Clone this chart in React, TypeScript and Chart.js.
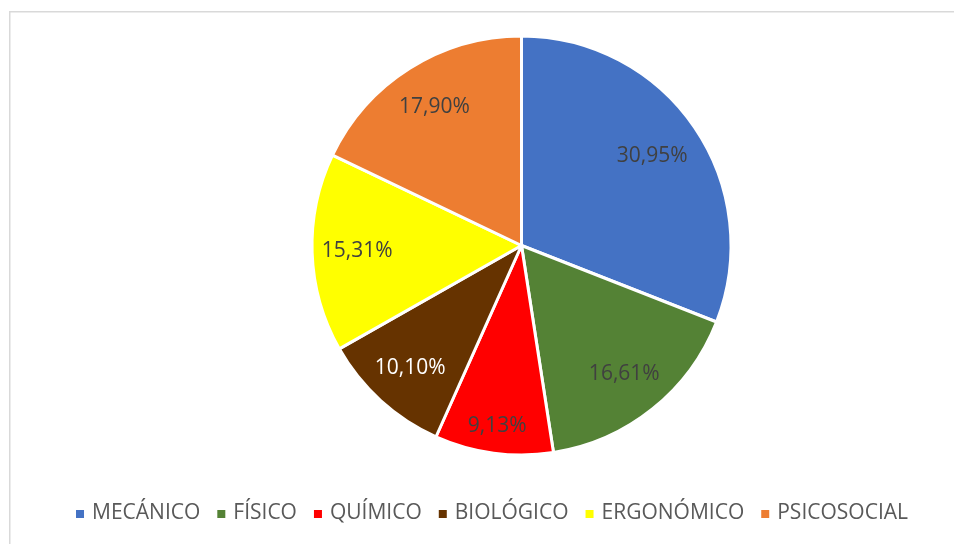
import React, { useEffect, useRef } from "react";
import { Chart, registerables } from "chart.js";

Chart.register(...registerables);

const categories = ["MECÁNICO", "FÍSICO", "QUÍMICO", "BIOLÓGICO", "ERGONÓMICO", "PSICOSOCIAL"];
const values = [30.95, 16.61, 9.13, 10.1, 15.31, 17.9];
const colors = ["#4472C4", "#548235", "#FF0000", "#663300", "#FFFF00", "#ED7D31"];
const labelColors = ["#404040", "#404040", "#404040", "#FFFFFF", "#404040", "#404040"];
const labelRadius = [0.755, 0.785, 0.87, 0.79, 0.785, 0.78];

const FONT = "'Open Sans', 'Liberation Sans', sans-serif";

const fmt = (v: number) => v.toFixed(2).replace(".", ",") + "%";

const framePlugin = {
  id: "frame",
  beforeDraw(chart: any) {
    const ctx = chart.ctx;
    ctx.save();
    ctx.fillStyle = "#FFFFFF";
    ctx.fillRect(0, 0, chart.width, chart.height);
    ctx.strokeStyle = "#D9D9D9";
    ctx.lineWidth = 1.5;
    ctx.strokeRect(9.75, 11.75, 2000, 2000);
    ctx.restore();
  },
};

const labelPlugin = {
  id: "sliceLabels",
  afterDatasetsDraw(chart: any) {
    const ctx = chart.ctx;
    const meta = chart.getDatasetMeta(0);
    ctx.save();
    ctx.font = `21px ${FONT}`;
    ctx.textAlign = "center";
    ctx.textBaseline = "middle";
    meta.data.forEach((arc: any, i: number) => {
      const p = arc.getProps(["x", "y", "startAngle", "endAngle", "outerRadius"], true);
      const mid = (p.startAngle + p.endAngle) / 2;
      const r = p.outerRadius * labelRadius[i];
      ctx.fillStyle = labelColors[i];
      ctx.fillText(fmt(values[i]), p.x + Math.cos(mid) * r, p.y + Math.sin(mid) * r);
    });
    ctx.restore();
  },
};

const legendPlugin = {
  id: "customLegend",
  afterDraw(chart: any) {
    const ctx = chart.ctx;
    ctx.save();
    ctx.font = `21px ${FONT}`;
    ctx.textBaseline = "middle";
    const box = 8;
    const boxGap = 8;
    const itemGap = 17;
    const widths = categories.map((c) => ctx.measureText(c).width);
    const total =
      widths.reduce((a, b) => a + b, 0) + categories.length * (box + boxGap) + (categories.length - 1) * itemGap;
    const centerX = 492;
    const y = 513;
    let x = centerX - total / 2;
    categories.forEach((c, i) => {
      ctx.fillStyle = colors[i];
      ctx.fillRect(x, y - box / 2 + 1, box, box);
      x += box + boxGap;
      ctx.fillStyle = "#595959";
      ctx.textAlign = "left";
      ctx.fillText(c, x, y);
      x += widths[i] + itemGap;
    });
    ctx.restore();
  },
};

export default function App() {
  const ref = useRef<HTMLCanvasElement>(null);
  useEffect(() => {
    if (!ref.current) return;
    const chart = new Chart(ref.current, {
      type: "pie",
      data: {
        labels: categories,
        datasets: [
          {
            data: values,
            backgroundColor: colors,
            borderColor: "#FFFFFF",
            borderWidth: 3,
            hoverBorderWidth: 3,
            hoverOffset: 0,
          },
        ],
      },
      options: {
        responsive: false,
        animation: false,
        devicePixelRatio: 1,
        events: [],
        layout: {
          padding: { top: 34.5, bottom: 544 - 456.5, left: 310.5, right: 954 - 732.5 },
        },
        plugins: {
          legend: { display: false },
          tooltip: { enabled: false },
        },
      },
      plugins: [framePlugin, labelPlugin, legendPlugin],
    });
    return () => chart.destroy();
  }, []);
  return (
    <div style={{ position: "fixed", left: 0, top: 0, width: 954, height: 544, background: "#fff" }}>
      <canvas ref={ref} width={954} height={544} />
    </div>
  );
}
